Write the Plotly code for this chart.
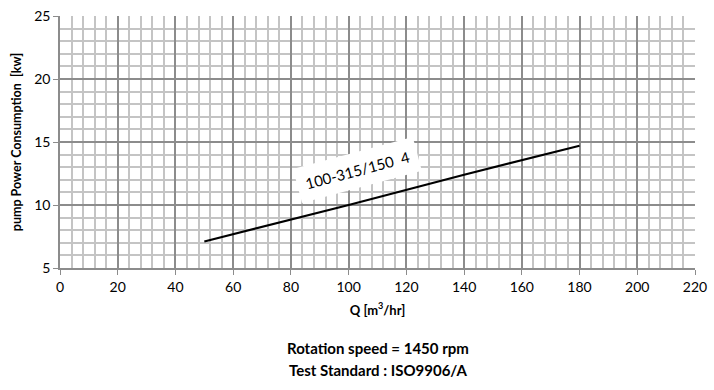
import plotly.graph_objects as go

flow_q = [50, 100, 140, 180]
power_kw = [7.1, 10.0, 12.4, 14.7]
curve_label = "100-315/150  4"
x_title = "Q [m<sup>3</sup>/hr]"
y_title = "pump Power Consumption  [kw]"
footer_lines = ["Rotation speed = 1450 rpm", "Test Standard : ISO9906/A"]

FONT = "Lato, Open Sans, sans-serif"

fig = go.Figure()
fig.add_trace(go.Scatter(x=flow_q, y=power_kw, mode="lines",
                         line=dict(color="black", width=2.2), showlegend=False,
                         hoverinfo="skip"))

fig.add_annotation(x=103, y=12.75, xref="x", yref="y", text=curve_label,
                   showarrow=False, textangle=-15, bgcolor="white",
                   borderpad=8, font=dict(family=FONT, size=15, color="black"))

fig.add_annotation(x=0.5, y=-0.36, xref="paper", yref="paper",
                   text="<b>" + footer_lines[0] + "</b>", showarrow=False,
                   font=dict(family=FONT, size=15, color="black"))
fig.add_annotation(x=0.5, y=-0.45, xref="paper", yref="paper",
                   text="<b>" + footer_lines[1] + "</b>", showarrow=False,
                   font=dict(family=FONT, size=15, color="black"))

major = "#8c8c8c"
minor = "#c4c4c4"

fig.update_layout(
    width=714, height=390,
    margin=dict(l=60, r=17, t=7, b=122),
    plot_bgcolor="white", paper_bgcolor="white",
    font=dict(family=FONT, size=13, color="black"),
    xaxis=dict(range=[0, 220], dtick=20, tick0=0, showgrid=True, gridcolor=major,
               gridwidth=1.5, zeroline=False, showline=True, linecolor=major,
               linewidth=1.5, ticks="outside", ticklen=5, tickcolor=major,
               mirror=False, ticklabeloverflow="allow",
               minor=dict(dtick=4, showgrid=True, gridcolor=minor, gridwidth=1.5),
               title=dict(text="<b>" + x_title + "</b>", font=dict(size=13), standoff=12),
               tickfont=dict(size=14)),
    yaxis=dict(range=[5, 25], dtick=5, tick0=5, showgrid=True, gridcolor=major,
               gridwidth=1.5, zeroline=False, showline=True, linecolor=major,
               linewidth=1.5, ticks="outside", ticklen=5, tickcolor=major,
               ticklabeloverflow="allow",
               minor=dict(dtick=1, showgrid=True, gridcolor=minor, gridwidth=1.5),
               title=dict(text="<b>" + y_title + "</b>", font=dict(size=12.5), standoff=10),
               tickfont=dict(size=14)),
)

fig.write_html("out.html", config={"displayModeBar": False},
               post_script="document.body.style.margin='0';document.body.style.padding='0';")
